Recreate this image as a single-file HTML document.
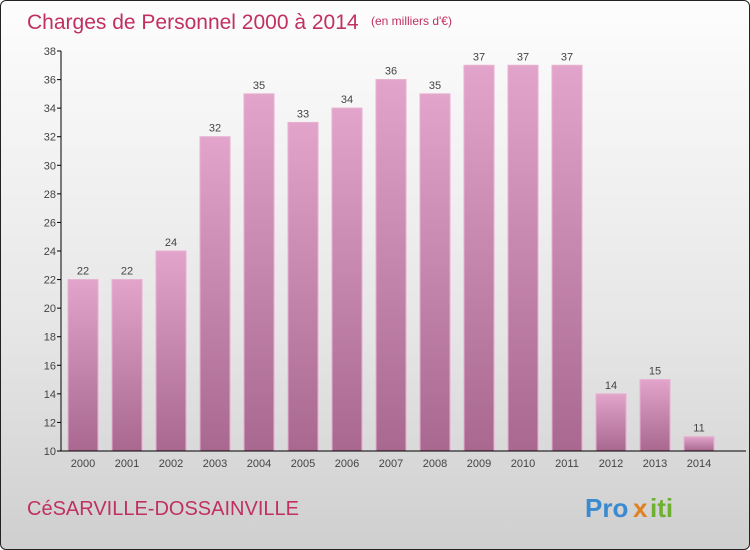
<!DOCTYPE html>
<html><head><meta charset="utf-8"><style>
body{margin:0;}
#wrap{position:relative;width:748px;height:548px;border:1px solid #222;border-radius:6px;overflow:hidden;background:linear-gradient(#fdfdfd,#e6e6e6 60%,#cfcfcf);font-family:"Liberation Sans",sans-serif;}
</style></head><body>
<div id="wrap">
<svg id="chart" width="748" height="548">
<defs><linearGradient id="bg" x1="0" y1="0" x2="0" y2="1"><stop offset="0" stop-color="#e2a4ca"/><stop offset="1" stop-color="#a86890"/></linearGradient></defs>
<text x="26" y="28" font-size="21" fill="#c03060">Charges de Personnel 2000 à 2014</text>
<text x="370" y="24" font-size="12" fill="#c03060">(en milliers d'€)</text>
<text x="26" y="514" font-size="20" fill="#c03060">CéSARVILLE-DOSSAINVILLE</text>
<g font-size="26" font-weight="bold">
<text x="584" y="516" fill="#3a8ad0">Pro</text><text x="632" y="516" fill="#e08020">x</text><text x="649" y="516" fill="#70b030">iti</text>
</g>
<g id="plot"></g>
</svg>
</div>
<script>
const categories=["2000","2001","2002","2003","2004","2005","2006","2007","2008","2009","2010","2011","2012","2013","2014"];
const values=[22,22,24,32,35,33,34,36,35,37,37,37,14,15,11];
const yTicks=[10,12,14,16,18,20,22,24,26,28,30,32,34,36,38];
const NS="http://www.w3.org/2000/svg";
const plot=document.getElementById('plot');
const yMin=10,yMax=38,plotTop=50,plotBot=450;
function yS(v){return plotBot-(v-yMin)/(yMax-yMin)*(plotBot-plotTop);}
function xS(i){return 82+i*44;}
function mk(t,a){const e=document.createElementNS(NS,t);for(const k in a)e.setAttribute(k,a[k]);plot.appendChild(e);return e;}
categories.forEach((c,i)=>{
  const r=mk('rect',{x:xS(i)-15,y:yS(values[i]),width:30,height:plotBot-yS(values[i]),fill:'url(#bg)',stroke:'#e8b0d0','stroke-width':1});
  
  
  const t=mk('text',{x:xS(i),y:yS(values[i])-5,'text-anchor':'middle','font-size':11,fill:'#444'});t.textContent=values[i];
  
  
  const l=mk('text',{x:xS(i),y:466,'text-anchor':'middle','font-size':11,fill:'#444'});l.textContent=c;
  
  
});
yTicks.forEach(v=>{
  mk('line',{x1:56,x2:60,y1:yS(v),y2:yS(v),stroke:'#000'});
  const t=mk('text',{x:55,y:yS(v)+4,'text-anchor':'end','font-size':11,fill:'#444'});t.textContent=v;
  
  
});
const ya=mk('line',{x1:60,x2:60,y1:plotTop,y2:plotBot,stroke:'#000'});


const xa=mk('line',{x1:60,x2:745,y1:plotBot,y2:plotBot,stroke:'#000'});


</script>
</body></html>
